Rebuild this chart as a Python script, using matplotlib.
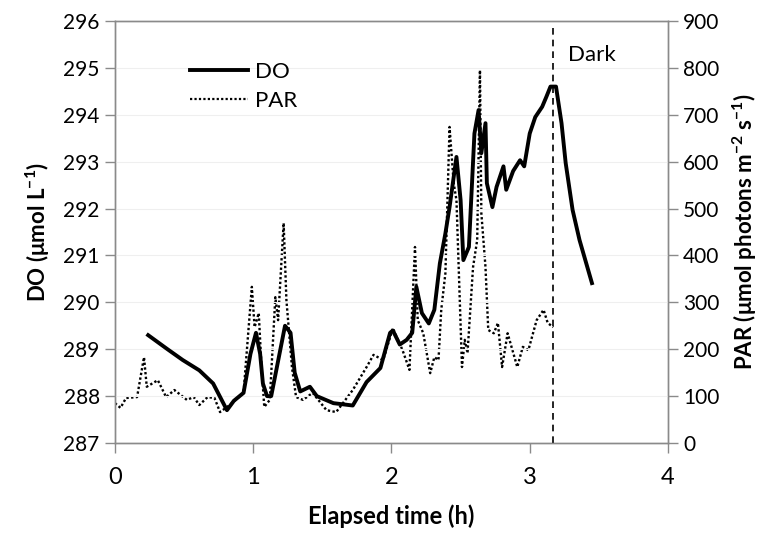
import matplotlib
matplotlib.use("Agg")
import matplotlib.pyplot as plt

# ---- data ----
do_t = [0.24, 0.38, 0.49, 0.61, 0.71, 0.81, 0.86, 0.93, 0.98, 1.02, 1.05, 1.07, 1.10, 1.13,
        1.17, 1.23, 1.27, 1.30, 1.34, 1.41, 1.46, 1.58, 1.72, 1.82, 1.92, 1.99, 2.01, 2.06,
        2.11, 2.15, 2.18, 2.22, 2.27, 2.31, 2.35, 2.39, 2.42, 2.47, 2.50, 2.52, 2.56, 2.60,
        2.63, 2.65, 2.68, 2.69, 2.73, 2.76, 2.81, 2.83, 2.88, 2.93, 2.96, 3.00, 3.04, 3.09,
        3.12, 3.15, 3.19, 3.23, 3.26, 3.31, 3.36, 3.45]
do_v = [289.3, 289.0, 288.77, 288.55, 288.27, 287.7, 287.9, 288.07, 288.9, 289.35, 288.9, 288.27,
        288.0, 288.0, 288.6, 289.5, 289.35, 288.5, 288.1, 288.2, 288.0, 287.85, 287.8, 288.3,
        288.6, 289.35, 289.4, 289.1, 289.2, 289.35, 290.33, 289.77, 289.55, 289.84, 290.83,
        291.47, 292.03, 293.1, 292.18, 290.9, 291.18, 293.6, 294.1, 293.18, 293.82, 292.54,
        292.03, 292.46, 292.9, 292.4, 292.8, 293.03, 292.9, 293.6, 293.95, 294.17, 294.38,
        294.6, 294.6, 293.82, 292.97, 291.97, 291.33, 290.41]

par_t = [0.00, 0.04, 0.08, 0.16, 0.21, 0.23, 0.31, 0.37, 0.43, 0.52, 0.57, 0.61, 0.67, 0.72,
         0.76, 0.83, 0.93, 0.99, 1.01, 1.04, 1.06, 1.08, 1.12, 1.16, 1.18, 1.22, 1.24, 1.28,
         1.31, 1.36, 1.43, 1.53, 1.60, 1.72, 1.82, 1.87, 1.94, 2.01, 2.08, 2.13, 2.17, 2.19,
         2.23, 2.28, 2.31, 2.34, 2.36, 2.39, 2.42, 2.45, 2.47, 2.51, 2.53, 2.55, 2.59, 2.62,
         2.64, 2.65, 2.68, 2.70, 2.74, 2.77, 2.80, 2.84, 2.91, 2.95, 2.99, 3.05, 3.10, 3.13, 3.17]
par_v = [85, 75, 96, 98, 183, 120, 134, 98, 113, 92, 98, 81, 98, 96, 66, 81, 107, 333, 247, 277,
         162, 77, 92, 311, 262, 469, 305, 162, 98, 92, 107, 70, 66, 113, 162, 188, 177, 245, 198,
         156, 418, 262, 234, 149, 183, 177, 284, 362, 674, 554, 518, 162, 220, 192, 375, 433,
         795, 490, 375, 241, 234, 256, 162, 234, 162, 205, 198, 262, 284, 256, 247]

dark_t = 3.17
x_ticks = [0, 1, 2, 3, 4]
do_ticks = [287, 288, 289, 290, 291, 292, 293, 294, 295, 296]
par_ticks = [0, 100, 200, 300, 400, 500, 600, 700, 800, 900]

plt.rcParams['font.family'] = ['Lato', 'DejaVu Sans']
plt.rcParams['mathtext.fontset'] = 'custom'
plt.rcParams['mathtext.rm'] = 'Lato'
plt.rcParams['mathtext.bf'] = 'Lato:bold'

fig = plt.figure(figsize=(7.81, 5.37), dpi=100)
ax = fig.add_axes([0.1472, 0.175, 0.7081, 0.786])
ax2 = ax.twinx()

ax.set_zorder(ax2.get_zorder() + 1)
ax.patch.set_visible(False)

ax.plot(do_t, do_v, color='black', lw=2.8, label='DO', solid_joinstyle='round')
ax.plot([], [], color='black', lw=1.6, ls=(0, (1, 1)), label='PAR')
ax2.plot(par_t, par_v, color='black', lw=1.7, ls=(0, (1, 1)))

ax.axvline(dark_t, ymax=0.985, color='black', lw=1.2, ls=(0, (4, 3)))
ax.text(3.28, 295.27, 'Dark', fontsize=16, ha='left', va='center')

ax.set_xlim(0, 4)
ax.set_ylim(287, 296)
ax2.set_ylim(0, 900)
ax.set_xticks(x_ticks)
ax.set_yticks(do_ticks)
ax2.set_yticks(par_ticks)

for a in (ax, ax2):
    for s in a.spines.values():
        s.set_color('#8a8a8a')
        s.set_linewidth(1.0)
    a.tick_params(colors='#8a8a8a', labelcolor='black', length=7, width=1.0, direction='out')

ax.tick_params(axis='x', labelsize=17, pad=10)
ax.tick_params(axis='y', labelsize=15, pad=4)
ax2.tick_params(axis='y', labelsize=15, pad=4)

ax.grid(axis='y', color='#efefef', lw=0.8)
ax.set_axisbelow(True)

ax.set_xlabel('Elapsed time (h)', fontsize=17, fontweight='bold', labelpad=12)
ax.set_ylabel(r'DO (μmol L$^{\mathbf{-1}}$)', fontsize=16, fontweight='bold', labelpad=8)
ax2.set_ylabel(r'PAR (μmol photons m$^{\mathbf{-2}}$ s$^{\mathbf{-1}}$)', fontsize=16,
               fontweight='bold', labelpad=8)

leg = ax.legend(loc='upper left', bbox_to_anchor=(0.1, 0.95), frameon=False, fontsize=16,
                handlelength=2.6, handletextpad=0.3, labelspacing=0.4)

fig.savefig('out.png', dpi=100)
